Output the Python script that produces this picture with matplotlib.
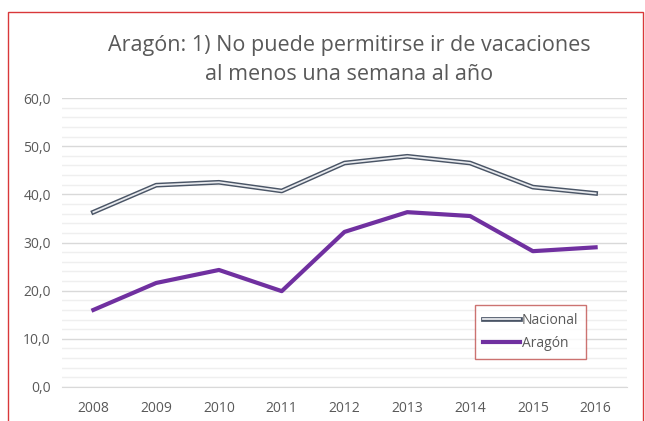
import numpy as np
import matplotlib.pyplot as plt
from matplotlib.patches import Rectangle
from matplotlib.ticker import MultipleLocator, FuncFormatter
import matplotlib.patheffects as pe

years = ["2008", "2009", "2010", "2011", "2012", "2013", "2014", "2015", "2016"]
nacional = [36.3, 41.9, 42.5, 40.7, 46.5, 47.9, 46.5, 41.5, 40.2]
aragon = [16.0, 21.6, 24.3, 19.9, 32.2, 36.3, 35.5, 28.2, 29.0]

plt.rcParams['font.family'] = ['Open Sans', 'DejaVu Sans']
TXT = '#595959'

fig = plt.figure(figsize=(6.45, 4.21), dpi=100)
ax = fig.add_axes([62/645, 34/421, 565/645, 289/421])

x = np.arange(len(years))
# compound line: dark outline with light core
ax.plot(x, nacional, color='#4a5566', lw=3.4, label='Nacional',
        path_effects=[pe.Stroke(linewidth=3.4, foreground='#4a5566'),
                      pe.Stroke(linewidth=1.3, foreground='#e8eaee')])
ax.plot(x, aragon, color='#7030a0', lw=3, label='Aragón')

ax.set_xlim(-0.5, len(years) - 0.5)
ax.set_ylim(0, 60)
ax.set_xticks(x)
ax.set_xticklabels(years)
ax.yaxis.set_major_locator(MultipleLocator(10))
ax.yaxis.set_minor_locator(MultipleLocator(2))
ax.yaxis.set_major_formatter(FuncFormatter(lambda v, p: f"{v:.1f}".replace('.', ',')))
ax.grid(axis='y', which='major', color='#d9d9d9', lw=1)
ax.grid(axis='y', which='minor', color='#efefef', lw=1)
ax.set_axisbelow(True)
for s in ['top', 'right', 'left']:
    ax.spines[s].set_visible(False)
ax.spines['bottom'].set_color('#d9d9d9')
ax.tick_params(axis='both', which='both', length=0, labelsize=10, labelcolor=TXT)
ax.tick_params(axis='x', pad=10)
ax.tick_params(axis='y', pad=8)

leg = ax.legend(loc='upper left', bbox_to_anchor=(413/565, 82/289), frameon=True,
                fancybox=False, fontsize=10, handlelength=2.7, handletextpad=0.1,
                borderpad=0.55, labelspacing=0.6, borderaxespad=0)
leg.get_frame().set_edgecolor('#c0504d')
leg.get_frame().set_linewidth(1)
for t in leg.get_texts():
    t.set_color(TXT)

fig.text(349/645, 1 - 45/421, "Aragón: 1) No puede permitirse ir de vacaciones",
         ha='center', va='center', fontsize=15.5, color=TXT)
fig.text(349/645, 1 - 74/421, "al menos una semana al año",
         ha='center', va='center', fontsize=15.5, color=TXT)

fig.patches.append(Rectangle((8/645, -0.1), 635/645, 1.1 - 12/421,
                             transform=fig.transFigure, fill=False,
                             edgecolor='#d9383a', lw=1))

fig.savefig('out.png', dpi=100)
